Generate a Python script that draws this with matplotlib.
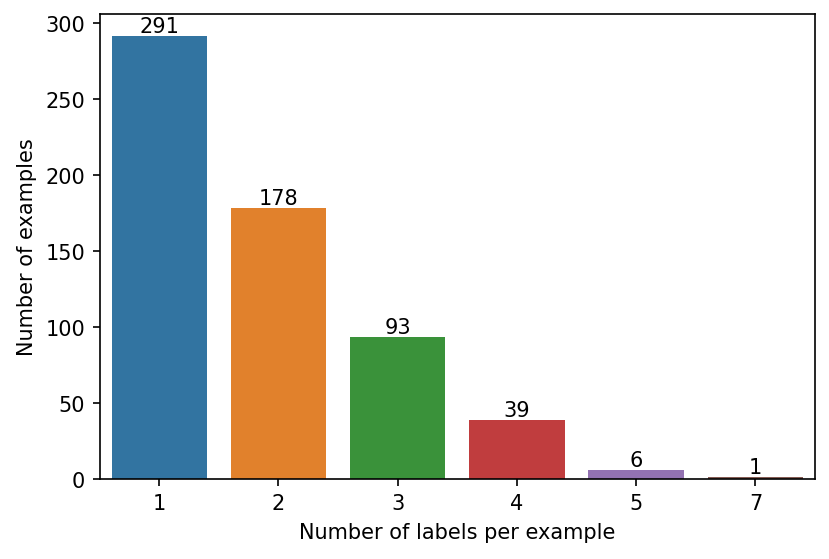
import matplotlib
matplotlib.use("Agg")
import matplotlib.pyplot as plt

labels = ["1", "2", "3", "4", "5", "7"]
counts = [291, 178, 93, 39, 6, 1]
colors = ["#3274a1", "#e1812c", "#3a923a", "#c03d3e", "#9372b2", "#845b53"]

fig = plt.figure(figsize=(5.5333, 3.7333), dpi=150)
ax = fig.add_axes([0.12, 0.143, 0.862, 0.83])

x = range(len(labels))
bars = ax.bar(x, counts, width=0.8, color=colors)
for xi, c in zip(x, counts):
    ax.text(xi, c, str(c), ha="center", va="bottom", fontsize=10)

ax.set_xticks(list(x))
ax.set_xticklabels(labels)
ax.set_xlim(-0.5, len(labels) - 0.5)
ax.set_ylim(0, 305.55)
ax.set_xlabel("Number of labels per example")
ax.set_ylabel("Number of examples")

fig.savefig("out.png", dpi=150)
